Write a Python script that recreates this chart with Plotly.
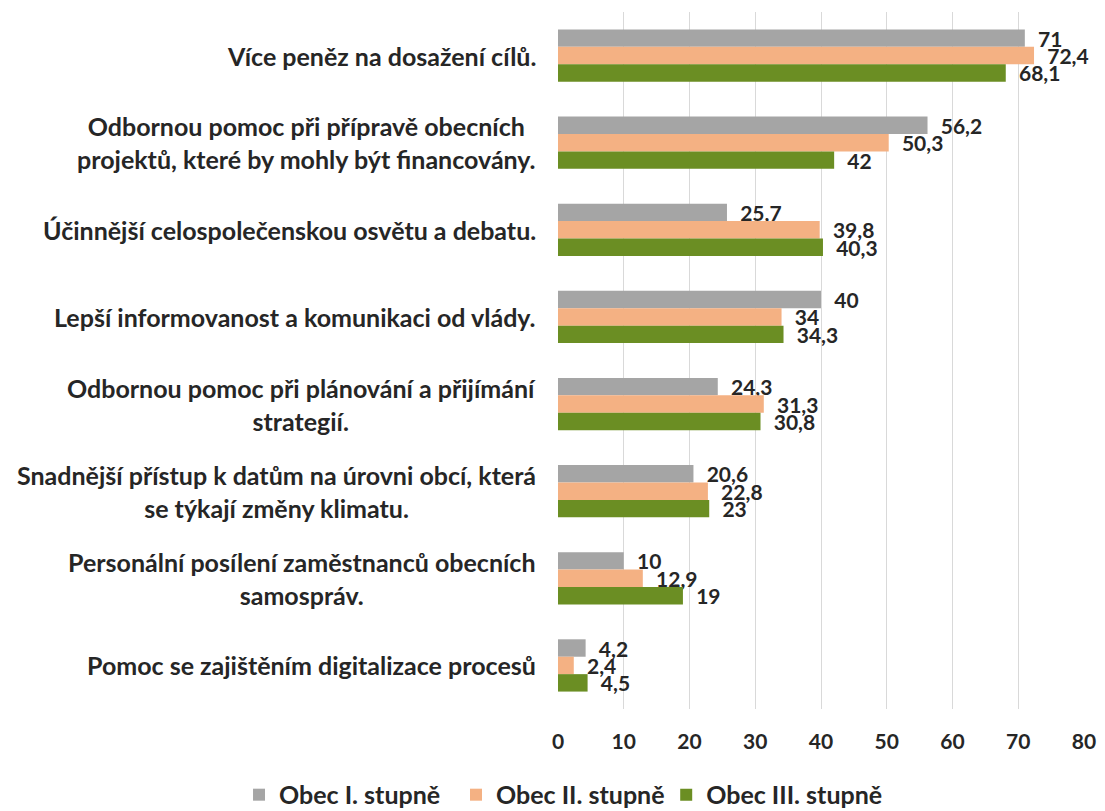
import plotly.graph_objects as go

categories = [
    "Více peněz na dosažení cílů.",
    "Odbornou pomoc při přípravě obecních<br>projektů, které by mohly být financovány.",
    "Účinnější celospolečenskou osvětu a debatu.",
    "Lepší informovanost a komunikaci od vlády.",
    "Odbornou pomoc při plánování a přijímání<br>strategií.",
    "Snadnější přístup k datům na úrovni obcí, která<br>se týkají změny klimatu.",
    "Personální posílení zaměstnanců obecních<br>samospráv.",
    "Pomoc se zajištěním digitalizace procesů",
]

series_names = ["Obec I. stupně", "Obec II. stupně", "Obec III. stupně"]
obec_I = [71, 56.2, 25.7, 40, 24.3, 20.6, 10, 4.2]
obec_II = [72.4, 50.3, 39.8, 34, 31.3, 22.8, 12.9, 2.4]
obec_III = [68.1, 42, 40.3, 34.3, 30.8, 23, 19, 4.5]
x_ticks = [0, 10, 20, 30, 40, 50, 60, 70, 80]

colors = ["#A5A5A5", "#F4B183", "#6B8E23"]
legend_ids = ["legend", "legend2", "legend3"]
legend_x = [0.2106, 0.4084, 0.6000]
FONT = "Lato"
TXT = "#262626"

def fmt(v):
    return "\u00a0\u00a0" + str(v).replace(".", ",")

fig = go.Figure()
for name, vals, col, lg in zip(series_names, [obec_I, obec_II, obec_III], colors, legend_ids):
    fig.add_trace(go.Bar(
        y=categories, x=vals, name=name, orientation="h", legend=lg,
        marker=dict(color=col, line=dict(width=0)),
        text=[fmt(v) for v in vals], textposition="outside",
        textfont=dict(family=FONT, size=21, color=TXT, weight="bold"),
        cliponaxis=False, constraintext="none",
    ))

for c in categories:
    fig.add_annotation(
        x=0, xref="paper", y=c, yref="y", xanchor="right", yanchor="middle",
        xshift=-20, text=c, showarrow=False, align="center",
        font=dict(family=FONT, size=25, color=TXT, weight="bold"),
    )

legend_style = dict(orientation="h", xref="container", yref="container",
                    xanchor="left", y=0.02, yanchor="middle",
                    font=dict(family=FONT, size=25, color=TXT, weight="bold"),
                    itemwidth=30, bgcolor="rgba(0,0,0,0)")

fig.update_layout(
    width=1097, height=803,
    margin=dict(l=550, r=21, t=4, b=102),
    paper_bgcolor="white", plot_bgcolor="white",
    barmode="group", bargap=0.4, bargroupgap=0,
    showlegend=True,
    legend=dict(x=legend_x[0], **legend_style),
    legend2=dict(x=legend_x[1], **legend_style),
    legend3=dict(x=legend_x[2], **legend_style),
    font=dict(family=FONT, color=TXT),
)
fig.update_xaxes(range=[0, 80], tickvals=x_ticks, showgrid=True, gridcolor="#D9D9D9",
                 gridwidth=1, zeroline=False, showline=False,
                 tickfont=dict(family=FONT, size=21, color=TXT, weight="bold"),
                 ticklabelstandoff=18)
fig.update_yaxes(autorange="reversed", showticklabels=False, showgrid=False,
                 zeroline=False, showline=False)

fig.write_html("out.html")
